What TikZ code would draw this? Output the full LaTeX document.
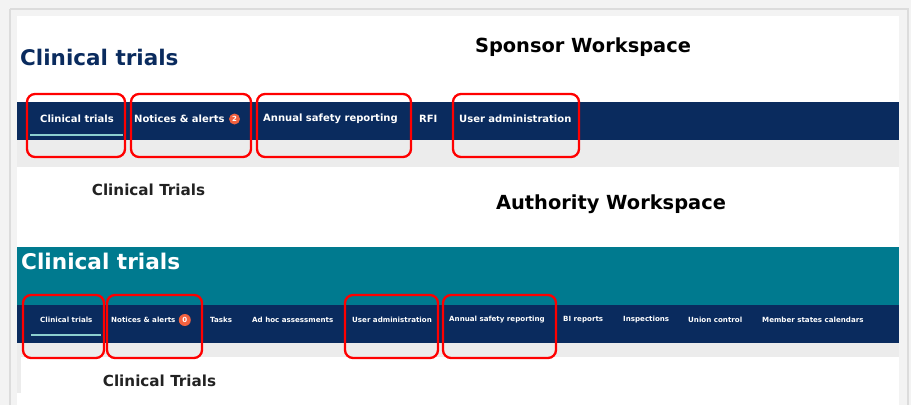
\documentclass[tikz,border=0pt]{standalone}
\usepackage{fontspec}
\setmainfont{DejaVu Sans}
\usetikzlibrary{positioning}

\definecolor{ctnavy}{HTML}{0A2B5E}
\definecolor{ctteal}{HTML}{007A8F}
\definecolor{ctstrip}{HTML}{ECECEC}
\definecolor{ctpage}{HTML}{F3F3F3}
\definecolor{ctedge}{HTML}{DCDCDC}
\definecolor{ctbadge}{HTML}{F2613F}
\definecolor{ctline}{HTML}{8CCFCF}
\definecolor{cttext}{HTML}{222222}

\begin{document}
\begin{tikzpicture}[x=1pt,y=-1pt,
    tabbig/.style={anchor=west, inner sep=0pt, text=white, font=\bfseries\fontsize{10}{12}\selectfont},
    tabsmall/.style={anchor=west, inner sep=0pt, text=white, font=\bfseries\fontsize{7.1}{9}\selectfont},
    badge/.style={circle, fill=ctbadge, inner sep=0pt, text=white},
    hl/.style={draw=red, line width=2.3pt, rounded corners=8pt},
    heading/.style={inner sep=0pt, font=\bfseries\fontsize{19.4}{23}\selectfont}]
    % 背景と枠
    \useasboundingbox (0,0) rectangle (911,405);
    \fill[ctpage] (0,0) rectangle (911,405);
    \draw[ctedge, line width=1.5pt] (10,9) -- (908,9) -- (908,405);
    \draw[ctedge, line width=1.5pt] (10,9) -- (10,405);
    \fill[white] (17,16) rectangle (899,405);

    % 上段(Sponsor)の帯
    \fill[ctnavy] (17,102) rectangle (899,140);
    \fill[ctstrip] (17,140) rectangle (899,167);

    % 下段(Authority)の帯
    \fill[ctteal] (17,247) rectangle (899,305);
    \fill[ctnavy] (17,305) rectangle (899,343);
    \fill[ctstrip] (17,343) rectangle (899,357);
    \fill[ctstrip] (17,357) rectangle (21,393);

    % 見出し
    \node[anchor=west, inner sep=0pt, text=ctnavy, font=\bfseries\fontsize{21.5}{26}\selectfont] (title1) at (20,57) {Clinical trials};
    \node[heading] (sponsor) at (583,47) {Sponsor Workspace};
    \node[heading] (authority) at (611,204) {Authority Workspace};
    \node[anchor=west, inner sep=0pt, text=white, font=\bfseries\fontsize{21.6}{26}\selectfont] (title2) at (21,261) {Clinical trials};

    % 上段のタブ
    \foreach \x/\t [count=\i] in {40/Clinical trials, 134/Notices \& alerts, 263/Annual safety reporting, 419/RFI, 459/User administration}
        \node[tabbig] (s\i) at (\x,119) {\t};
    \node[badge, minimum size=11pt, font=\bfseries\fontsize{7}{8}\selectfont, right=4pt of s2] (sbadge) {2};
    \draw[ctline, line width=2pt] (30,135) -- (123,135);

    % 下段のタブ
    \foreach \x/\t [count=\i] in {40/Clinical trials, 111/Notices \& alerts, 210/Tasks, 252/Ad hoc assessments, 352/User administration, 449/Annual safety reporting, 563/BI reports, 623/Inspections, 688/Union control, 762/Member states calendars}
        \node[tabsmall] (a\i) at (\x,320) {\t};
    \node[badge, minimum size=12pt, font=\bfseries\fontsize{7}{8}\selectfont, right=3pt of a2] (abadge) {0};
    \draw[ctline, line width=2pt] (31,335) -- (101,335);

    % ページ内の小見出し
    \node[inner sep=0pt, text=cttext, font=\bfseries\fontsize{15.2}{18}\selectfont] (sub1) at (148.5,190) {Clinical Trials};
    \node[inner sep=0pt, text=cttext, font=\bfseries\fontsize{15.2}{18}\selectfont] (sub2) at (159.5,381) {Clinical Trials};

    % 赤枠(上段)
    \foreach \xa/\xb in {27/125, 131/251, 257/411, 453/579}
        \draw[hl] (\xa,94) rectangle (\xb,157);

    % 赤枠(下段)
    \foreach \xa/\xb in {23/104, 107/202, 345/438, 443/556}
        \draw[hl] (\xa,295) rectangle (\xb,358);
\end{tikzpicture}
\end{document}
